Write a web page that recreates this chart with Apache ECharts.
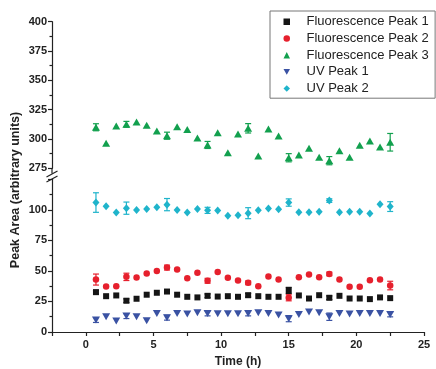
<!DOCTYPE html>
<html>
<head>
<meta charset="utf-8">
<script src="https://cdn.jsdelivr.net/npm/echarts@6/dist/echarts.min.js"></script>
<style>
  html, body { margin: 0; padding: 0; background: #fff; }
  #chart { width: 436px; height: 369px; }
</style>
</head>
<body>
<div id="chart"></div>
<script>
// sampling times (h)
const times = [0.75, 1.5, 2.25, 3, 3.75, 4.5, 5.25, 6, 6.75, 7.5, 8.25, 9, 9.75, 10.5, 11.25,
  12, 12.75, 13.5, 14.25, 15, 15.75, 16.5, 17.25, 18, 18.75, 19.5, 20.25, 21, 21.75, 22.5];

const fluor1 = [32.6, 29.3, 29.9, 25.6, 27.2, 30.5, 32.1, 33.1, 30.5, 28.8, 28.3, 29.6, 29.0, 29.3, 28.8,
  30.1, 29.3, 28.8, 28.8, 34.0, 29.9, 27.4, 30.1, 28.0, 29.6, 27.4, 27.4, 26.9, 28.3, 27.7];
const fluor1Err = [1.5, 0, 0, 1.5, 0, 0, 0, 1.5, 0, 0, 0, 1.5, 0, 0, 0,
  1.5, 0, 0, 0, 2.5, 0, 0, 0, 1.5, 0, 0, 0, 0, 0, 0];

const fluor2 = [42.9, 37.2, 37.5, 45.1, 44.5, 47.8, 50.0, 52.7, 51.1, 44.0, 48.4, 41.9, 49.0, 44.3, 42.1,
  40.2, 37.5, 45.4, 42.9, 28.0, 44.8, 47.0, 44.8, 47.5, 42.9, 37.0, 37.0, 42.3, 42.9, 38.0];
const fluor2Err = [4.5, 0, 0, 3, 0, 0, 0, 2, 0, 0, 0, 2, 0, 0, 0,
  1.5, 0, 0, 0, 2.5, 0, 0, 0, 1.5, 0, 0, 0, 0, 0, 3.5];

const fluor3 = [310, 296.3, 311, 312.5, 314.5, 311.7, 306.8, 302.8, 310.5, 308, 300.8, 294.9, 305.3, 288.3, 304.2,
  309.1, 285.5, 308.5, 302.5, 284, 286.3, 292, 284.4, 281.5, 290, 284.4, 294.6, 298.3, 293.2, 297.2];
const fluor3Err = [3, 0, 0, 2.5, 0, 0, 0, 3, 0, 0, 0, 3, 0, 0, 0,
  4, 0, 0, 0, 3.5, 0, 0, 0, 3.5, 0, 0, 0, 0, 0, 7.5];

const uv1 = [9.8, 12.5, 9.0, 13.0, 12.5, 9.3, 15.2, 11.7, 15.2, 14.7, 15.8, 15.2, 15.0, 15.0, 15.0,
  15.2, 15.8, 15.2, 13.9, 10.9, 14.4, 16.3, 15.8, 12.5, 15.2, 14.7, 15.2, 15.2, 15.2, 14.4];
const uv1Err = [2, 0, 0, 2, 0, 0, 0, 2, 0, 0, 0, 2, 0, 0, 0,
  2, 0, 0, 0, 2.5, 0, 0, 0, 3, 0, 0, 0, 0, 0, 2];

const uv2 = [105.9, 102.9, 97.7, 101.3, 99.9, 100.7, 102.1, 104.2, 99.9, 97.7, 100.7, 99.5, 99.3, 95.0, 95.6,
  97.2, 99.7, 101.0, 100.5, 105.9, 98.0, 98.0, 98.3, 107.5, 98.0, 98.3, 98.3, 96.9, 104.5, 102.6];
const uv2Err = [8, 0, 0, 5, 0, 0, 0, 5, 0, 0, 0, 2.5, 0, 0, 0,
  4.5, 0, 0, 0, 3, 0, 0, 0, 1.5, 0, 0, 0, 0, 0, 4];

const seriesNames = ['Fluorescence Peak 1', 'Fluorescence Peak 2', 'Fluorescence Peak 3', 'UV Peak 1', 'UV Peak 2'];
const yTicksUpper = [275, 300, 325, 350, 375, 400];
const yTicksLower = [0, 25, 50, 75, 100];
const xTicks = [0, 5, 10, 15, 20, 25];

var chartDom = document.getElementById('chart');
var myChart = echarts.init(chartDom);
var option;

const FONT = '"Liberation Sans", Arial, sans-serif';
const downTri = 'path://M0,0 L10,0 L5,9 Z';

function pairs(ys) {
  return times.map((t, i) => [t, ys[i]]);
}
function errPairs(ys, es) {
  return times.map((t, i) => [t, ys[i], es[i]]).filter(d => d[2] > 0);
}

function errorSeries(ys, es, color, grid) {
  return {
    type: 'custom',
    xAxisIndex: grid,
    yAxisIndex: grid,
    silent: true,
    z: 1,
    data: errPairs(ys, es),
    renderItem: function (params, api) {
      const x = api.value(0), y = api.value(1), e = api.value(2);
      const hi = api.coord([x, y + e]);
      const lo = api.coord([x, y - e]);
      const cap = 3;
      const style = { stroke: color, lineWidth: 1.2 };
      return {
        type: 'group',
        children: [
          { type: 'line', shape: { x1: hi[0], y1: hi[1], x2: lo[0], y2: lo[1] }, style: style },
          { type: 'line', shape: { x1: hi[0] - cap, y1: hi[1], x2: hi[0] + cap, y2: hi[1] }, style: style },
          { type: 'line', shape: { x1: lo[0] - cap, y1: lo[1], x2: lo[0] + cap, y2: lo[1] }, style: style }
        ]
      };
    }
  };
}

function scatter(name, ys, color, symbol, size, grid) {
  return {
    name: name,
    type: 'scatter',
    xAxisIndex: grid,
    yAxisIndex: grid,
    symbol: symbol,
    symbolSize: size,
    itemStyle: { color: color, opacity: 1 },
    z: 2,
    data: pairs(ys)
  };
}

const axisLineStyle = { color: '#222', width: 1.2 };
const labelStyle = { color: '#222', fontFamily: FONT, fontWeight: 'bold', fontSize: 11 };

function yAxisCfg(grid, min, max, ticks) {
  return {
    type: 'value',
    gridIndex: grid,
    min: min,
    max: max,
    interval: 25,
    splitLine: { show: false },
    axisLine: { show: true, onZero: false, lineStyle: axisLineStyle },
    axisTick: { show: true, length: 4, lineStyle: axisLineStyle },
    minorTick: { show: true, splitNumber: 2, length: 2.5, lineStyle: axisLineStyle },
    axisLabel: Object.assign({
      margin: 5,
      formatter: v => (ticks.indexOf(v) >= 0 ? String(v) : '')
    }, labelStyle)
  };
}

const colors = ['#151515', '#e6202d', '#12a04e', '#3a52a3', '#1fb4cb'];

option = {
  animation: false,
  backgroundColor: '#fff',
  grid: [
    { left: 52, right: 12, top: 21.7, height: 146.6 },
    { left: 52, right: 12, top: 179.2, height: 153.5 }
  ],
  legend: {
    orient: 'vertical',
    left: 270,
    top: 11,
    padding: [2.4, 6.5, 1.3, 13.5],
    itemGap: 0,
    itemWidth: 6.5,
    itemHeight: 6.5,
    borderColor: '#777',
    borderWidth: 1,
    backgroundColor: '#fff',
    textStyle: {
      fontFamily: FONT, fontSize: 13, color: '#222', lineHeight: 16.7,
      padding: [0, 0, 0, 11.5]
    },
    data: [
      { name: seriesNames[0], icon: 'rect' },
      { name: seriesNames[1], icon: 'circle' },
      { name: seriesNames[2], icon: 'triangle' },
      { name: seriesNames[3], icon: downTri },
      { name: seriesNames[4], icon: 'diamond' }
    ]
  },
  xAxis: [
    {
      type: 'value', gridIndex: 0, min: -2.5, max: 25, show: false, splitLine: { show: false }
    },
    {
      type: 'value',
      gridIndex: 1,
      min: -2.5,
      max: 25,
      interval: 2.5,
      splitLine: { show: false },
      axisLine: { show: true, onZero: false, lineStyle: axisLineStyle },
      axisTick: { show: true, length: 4, lineStyle: axisLineStyle },
      axisLabel: Object.assign({
        margin: 7,
        formatter: v => (xTicks.indexOf(v) >= 0 ? String(v) : '')
      }, labelStyle),
      name: 'Time (h)',
      nameLocation: 'middle',
      nameGap: 24,
      nameTextStyle: { fontFamily: FONT, fontWeight: 'bold', fontSize: 12, color: '#222' }
    }
  ],
  yAxis: [
    yAxisCfg(0, 275, 400, yTicksUpper),
    yAxisCfg(1, 0, 125, yTicksLower)
  ],
  graphic: [
    // axis break
    { type: 'line', shape: { x1: 52, y1: 168, x2: 52, y2: 173.5 }, style: { stroke: '#222', lineWidth: 1.2 } },
    { type: 'line', shape: { x1: 46.5, y1: 177, x2: 57.5, y2: 171 }, style: { stroke: '#222', lineWidth: 1.2 } },
    { type: 'line', shape: { x1: 46.5, y1: 182, x2: 57.5, y2: 176 }, style: { stroke: '#222', lineWidth: 1.2 } },
    {
      type: 'text',
      x: 16,
      y: 190,
      rotation: Math.PI / 2,
      style: {
        text: 'Peak Area (arbitrary units)',
        fontFamily: FONT,
        fontWeight: 'bold',
        fontSize: 12.5,
        fill: '#222',
        align: 'center',
        verticalAlign: 'middle'
      }
    }
  ],
  series: [
    errorSeries(fluor1, fluor1Err, colors[0], 1),
    errorSeries(fluor2, fluor2Err, colors[1], 1),
    errorSeries(fluor3, fluor3Err, colors[2], 0),
    errorSeries(uv1, uv1Err, colors[3], 1),
    errorSeries(uv2, uv2Err, colors[4], 1),
    scatter(seriesNames[0], fluor1, colors[0], 'rect', 6, 1),
    scatter(seriesNames[1], fluor2, colors[1], 'circle', 6.5, 1),
    scatter(seriesNames[2], fluor3, colors[2], 'triangle', [8, 7], 0),
    scatter(seriesNames[3], uv1, colors[3], downTri, [8, 7], 1),
    scatter(seriesNames[4], uv2, colors[4], 'diamond', [7, 8], 1)
  ]
};

option && myChart.setOption(option);
</script>
</body>
</html>
